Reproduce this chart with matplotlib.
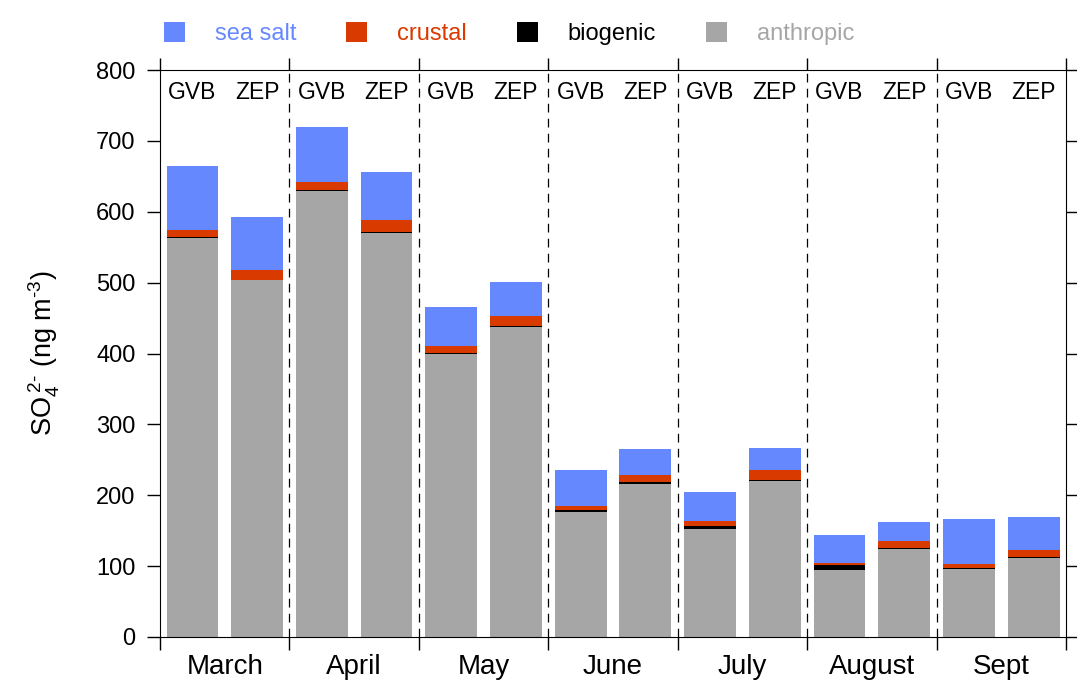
import numpy as np
import matplotlib
matplotlib.use('Agg')
from matplotlib import pyplot as plt

plt.rcParams['font.family'] = ['Liberation Sans', 'DejaVu Sans']
plt.rcParams['mathtext.fontset'] = 'custom'
plt.rcParams['mathtext.rm'] = 'Liberation Sans'
plt.rcParams['mathtext.it'] = 'Liberation Sans'

months = ['March', 'April', 'May', 'June', 'July', 'August', 'Sept']
sites = ['GVB', 'ZEP']

# values per bar, order: Mar GVB, Mar ZEP, Apr GVB, Apr ZEP, ...
anthropic = [563, 504, 629, 570, 399, 437, 176, 216, 152, 220, 95, 124, 96, 111]
biogenic = [2, 0, 2, 2, 2, 2, 3, 2, 5, 2, 6, 2, 2, 2]
crustal = [9, 14, 11, 16, 9, 14, 6, 11, 6, 14, 3, 10, 5, 10]
sea_salt = [91, 75, 78, 68, 56, 48, 51, 36, 41, 31, 40, 26, 63, 46]

colors = {'sea salt': '#6688ff', 'crustal': '#d93a00',
          'biogenic': '#000000', 'anthropic': '#a6a6a6'}

fig = plt.figure(figsize=(10.77, 6.92), dpi=100)
ax = fig.add_axes([0.1486, 0.0795, 0.9898 - 0.1486, 0.8988 - 0.0795])

x = np.array([m + off for m in range(len(months)) for off in (0.25, 0.75)])
w = 0.4
anth = np.array(anthropic)
bio = np.array(biogenic)
crus = np.array(crustal)
sea = np.array(sea_salt)

b_anth = ax.bar(x, anth, w, color=colors['anthropic'])
b_bio = ax.bar(x, bio, w, bottom=anth, color=colors['biogenic'])
b_crus = ax.bar(x, crus, w, bottom=anth + bio, color=colors['crustal'])
b_sea = ax.bar(x, sea, w, bottom=anth + bio + crus, color=colors['sea salt'])

ax.set_xlim(0, len(months))
ax.set_ylim(0, 800)
ax.set_yticks(range(0, 801, 100))

for b in range(1, len(months)):
    ax.axvline(b, color='black', linestyle=(0, (7, 5)), linewidth=0.9)

for i, xi in enumerate(x):
    ax.text(xi, 768, sites[i % 2], ha='center', va='center', fontsize=16.5)

ax.set_xticks(range(len(months) + 1))
ax.set_xticklabels([])
ax.set_xticks(np.arange(len(months)) + 0.5, minor=True)
ax.set_xticklabels(months, minor=True, fontsize=20)
ax.tick_params(axis='x', which='minor', length=0, pad=12)
ax.tick_params(axis='x', which='major', length=9, width=1, top=True, direction='out')
ax.tick_params(axis='y', which='major', length=9.5, width=1, right=True,
               direction='out', labelsize=17, pad=8)

ax.set_ylabel('SO$_4^{\\;2\\text{-}}$ (ng m$^{\\text{-}3}$)', fontsize=19.5)
ax.yaxis.set_label_coords(-0.108, 0.5)

handles = [b_sea, b_crus, b_bio, b_anth]
fig.legend(handles=handles, labels=['sea salt', 'crustal', 'biogenic', 'anthropic'],
           loc='center', bbox_to_anchor=(0.4726, 0.952), ncol=4, frameon=False,
           fontsize=17, handlelength=0.9, handleheight=0.93,
           handletextpad=1.27, columnspacing=2.1,
           labelcolor=[colors['sea salt'], colors['crustal'],
                       colors['biogenic'], colors['anthropic']])

fig.savefig('out.png', dpi=100)
